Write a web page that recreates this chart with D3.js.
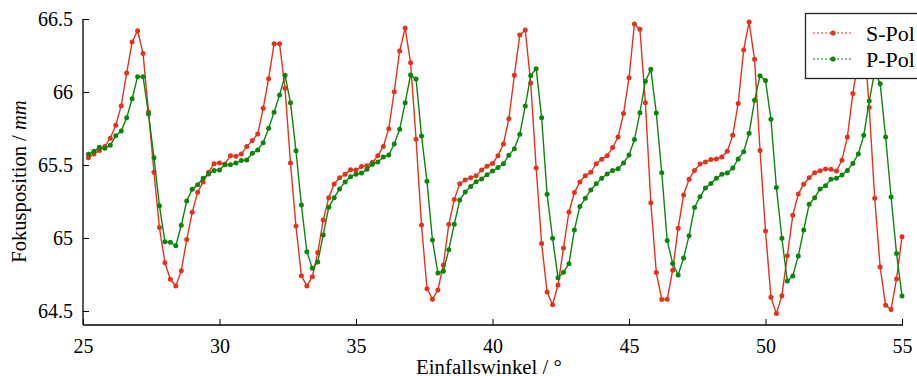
<!DOCTYPE html>
<html><head><meta charset="utf-8">
<script src="https://cdn.jsdelivr.net/npm/d3@7"></script>
<style>
html,body{margin:0;padding:0;background:#fff;}
svg{display:block;}
svg text{font-family:'Liberation Serif','Times New Roman',Times,'DejaVu Serif',serif !important;}
</style></head>
<body>
<svg id="chart" width="917" height="376"></svg>
<script>
// Angles of incidence (degrees)
const angles = [25.2,25.4,25.6,25.8,26.0,26.2,26.4,26.6,26.8,27.0,27.2,27.4,27.6,27.8,28.0,28.2,28.4,28.6,28.8,29.0,
29.2,29.4,29.6,29.8,30.0,30.2,30.4,30.6,30.8,31.0,31.2,31.4,31.6,31.8,32.0,32.2,32.4,32.6,32.8,33.0,
33.2,33.4,33.6,33.8,34.0,34.2,34.4,34.6,34.8,35.0,35.2,35.4,35.6,35.8,36.0,36.2,36.4,36.6,36.8,37.0,
37.2,37.4,37.6,37.8,38.0,38.2,38.4,38.6,38.8,39.0,39.2,39.4,39.6,39.8,40.0,40.2,40.4,40.6,40.8,41.0,
41.2,41.4,41.6,41.8,42.0,42.2,42.4,42.6,42.8,43.0,43.2,43.4,43.6,43.8,44.0,44.2,44.4,44.6,44.8,45.0,
45.2,45.4,45.6,45.8,46.0,46.2,46.4,46.6,46.8,47.0,47.2,47.4,47.6,47.8,48.0,48.2,48.4,48.6,48.8,49.0,
49.2,49.4,49.6,49.8,50.0,50.2,50.4,50.6,50.8,51.0,51.2,51.4,51.6,51.8,52.0,52.2,52.4,52.6,52.8,53.0,
53.2,53.4,53.6,53.8,54.0,54.2,54.4,54.6,54.8,55.0];

// S-Pol focus position (mm)
const sPol = [65.55,65.575,65.60,65.626,65.683,65.772,65.906,66.13,66.342,66.42,
66.263,65.863,65.45,65.071,64.831,64.717,64.671,64.776,64.989,65.176,
65.313,65.384,65.45,65.509,65.514,65.507,65.564,65.56,65.575,65.626,
65.667,65.712,65.888,66.091,66.331,66.331,66.025,65.514,65.082,64.742,
64.671,64.735,64.90,65.123,65.276,65.37,65.413,65.436,65.468,65.466,
65.489,65.495,65.518,65.564,65.626,65.749,66.002,66.281,66.438,66.201,
65.676,65.089,64.653,64.58,64.644,64.815,65.094,65.263,65.372,65.397,
65.413,65.427,65.466,65.491,65.511,65.564,65.644,65.817,66.114,66.39,
66.425,66.062,65.479,64.963,64.63,64.543,64.678,64.932,65.178,65.311,
65.384,65.427,65.45,65.509,65.539,65.564,65.619,65.692,65.852,66.098,
66.466,66.429,65.927,65.242,64.763,64.578,64.58,64.779,65.066,65.295,
65.402,65.463,65.507,65.521,65.537,65.541,65.555,65.594,65.703,65.922,
66.288,66.479,66.224,65.60,65.048,64.594,64.482,64.605,64.879,65.155,
65.301,65.368,65.413,65.447,65.461,65.473,65.47,65.459,65.532,65.692,
65.989,66.22,66.40,65.893,65.272,64.801,64.539,64.511,64.719,65.009];

// P-Pol focus position (mm)
const pPol = [65.573,65.594,65.621,65.614,65.635,65.70,65.733,65.824,65.954,66.105,
66.105,65.849,65.55,65.221,64.975,64.97,64.947,65.087,65.253,65.333,
65.365,65.409,65.438,65.463,65.466,65.502,65.501,65.514,65.53,65.534,
65.58,65.603,65.653,65.751,65.861,65.979,66.114,65.927,65.598,65.226,
64.906,64.792,64.836,65.021,65.21,65.276,65.336,65.384,65.42,65.436,
65.445,65.47,65.505,65.521,65.554,65.568,65.644,65.744,65.927,66.116,
66.089,65.699,65.388,64.986,64.76,64.772,64.92,65.094,65.26,65.315,
65.352,65.386,65.404,65.434,65.459,65.482,65.509,65.566,65.612,65.71,
65.904,66.112,66.16,65.824,65.299,64.998,64.728,64.765,64.824,65.055,
65.215,65.272,65.329,65.372,65.409,65.438,65.463,65.475,65.514,65.568,
65.674,65.858,66.073,66.155,65.856,65.447,64.982,64.826,64.747,64.863,
65.016,65.208,65.283,65.342,65.374,65.409,65.436,65.445,65.479,65.541,
65.591,65.717,65.943,66.112,66.078,65.813,65.345,64.998,64.705,64.74,
64.877,65.055,65.231,65.276,65.336,65.358,65.402,65.409,65.432,65.463,
65.511,65.575,65.703,65.938,66.14,66.057,65.692,65.281,64.893,64.603];

const xTicks = [25,30,35,40,45,50,55];
const yTicks = [64.5,65,65.5,66,66.5];
const seriesNames = ["S-Pol","P-Pol"];
const seriesColors = ["#e5321a","#0b860b"];

const svg = d3.select("#chart");
const L = 83, R = 902, T = 19, B = 325;
const x = d3.scaleLinear().domain([25,55]).range([L,R]);
const y = d3.scaleLinear().domain([64.404,66.5]).range([B,T]);

// axes
const xAxis = d3.axisBottom(x).tickValues(xTicks).tickFormat(d3.format("d"))
  .tickSizeInner(-6).tickSizeOuter(0).tickPadding(14);
const gx = svg.append("g").attr("transform",`translate(0,${B})`).call(xAxis);
gx.attr("font-family",null);
gx.select(".domain").attr("d",`M${L},0H${R+1}`).attr("stroke","#000").attr("stroke-width",1.3);
gx.selectAll("text").attr("font-size",20).attr("fill","#000");
gx.selectAll(".tick line").attr("stroke","#000");

const yAxis = d3.axisLeft(y).tickValues(yTicks).tickFormat(d=>String(d))
  .tickSizeInner(-6).tickSizeOuter(0).tickPadding(10);
const gy = svg.append("g").attr("transform",`translate(${L},0)`).call(yAxis);
gy.attr("font-family",null);
gy.select(".domain").attr("d",`M0,${T}V${B}`).attr("stroke","#000").attr("stroke-width",1.3);
gy.selectAll("text").attr("font-size",20).attr("fill","#000");
gy.selectAll(".tick line").attr("stroke","#000");

// axis titles
svg.append("text").attr("x",489).attr("y",373.5).attr("text-anchor","middle")
  .attr("font-size",20.8).text("Einfallswinkel / °");
const yt = svg.append("text").attr("transform","translate(25.5,181.5) rotate(-90)")
  .attr("text-anchor","middle").attr("font-size",20.6);
yt.append("tspan").text("Fokusposition / ");
yt.append("tspan").attr("font-style","italic").text("mm");

// series
const seriesData = [sPol, pPol];
const line = d3.line().x(d=>x(d[0])).y(d=>y(d[1]));
seriesData.forEach((vals,k)=>{
  const pts = angles.map((a,i)=>[a,vals[i]]);
  svg.append("path").datum(pts).attr("d",line).attr("fill","none")
    .attr("stroke",seriesColors[k]).attr("stroke-width",1.4);
  svg.append("g").selectAll("circle").data(pts).join("circle")
    .attr("cx",d=>x(d[0])).attr("cy",d=>y(d[1])).attr("r",2.5)
    .attr("fill",seriesColors[k]);
});

// legend
const lg = svg.append("g");
lg.append("rect").attr("x",805.5).attr("y",13.5).attr("width",130).attr("height",65)
  .attr("fill","#fff").attr("stroke","#222").attr("stroke-width",1.3);
seriesNames.forEach((n,k)=>{
  const cy = 33 + k*26;
  lg.append("line").attr("x1",813).attr("x2",852).attr("y1",cy).attr("y2",cy)
    .attr("stroke",seriesColors[k]).attr("stroke-width",1.2).attr("stroke-dasharray","2,2");
  lg.append("circle").attr("cx",833).attr("cy",cy).attr("r",2.6).attr("fill",seriesColors[k]);
  lg.append("text").attr("x",866).attr("y",cy+7.7).attr("font-size",22).text(n);
});
</script>
</body></html>
